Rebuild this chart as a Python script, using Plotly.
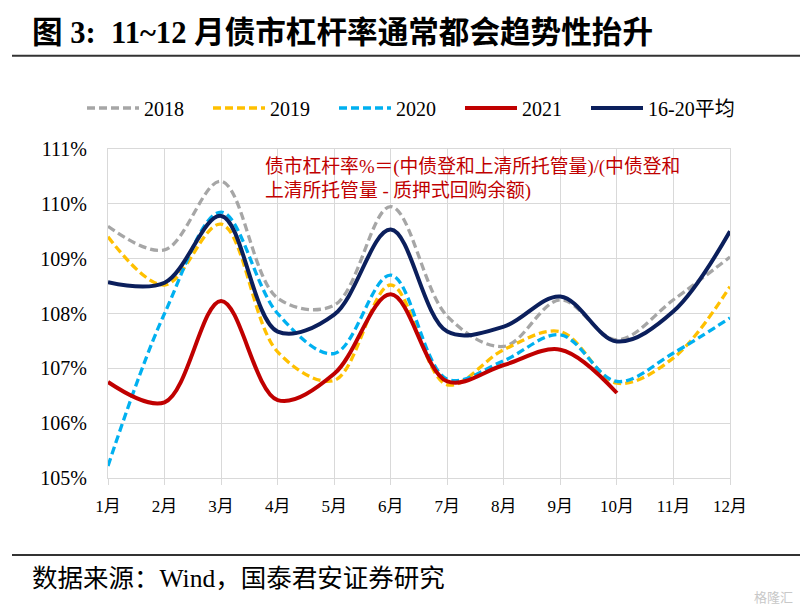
import plotly.graph_objects as go

months = ["1月", "2月", "3月", "4月", "5月", "6月", "7月", "8月", "9月", "10月", "11月", "12月"]
month_idx = list(range(1, 13))

y2018 = [109.59, 109.16, 110.41, 108.28, 108.15, 109.95, 107.95, 107.40, 108.25, 107.52, 108.25, 109.03]
y2019 = [109.40, 108.52, 109.63, 107.30, 106.78, 108.52, 106.70, 107.34, 107.67, 106.73, 107.19, 108.49]
y2020 = [105.22, 108.00, 109.85, 108.00, 107.27, 108.70, 106.80, 107.14, 107.61, 106.76, 107.28, 107.92]
y2021 = [106.75, 106.38, 108.23, 106.42, 106.90, 108.35, 106.76, 107.06, 107.34, 106.55]
yavg = [108.57, 108.56, 109.78, 107.67, 107.98, 109.53, 107.67, 107.76, 108.31, 107.49, 108.04, 109.50]

y_ticks = [105, 106, 107, 108, 109, 110, 111]
y_ticktext = ["105%", "106%", "107%", "108%", "109%", "110%", "111%"]

title_text = "图 3:  11~12 月债市杠杆率通常都会趋势性抬升"
note_text = "债市杠杆率%＝(中债登和上清所托管量)/(中债登和<br>上清所托管量 - 质押式回购余额)"
source_text = "数据来源：Wind，国泰君安证券研究"

W, H = 800, 610
L, R, T, B = 108, 730, 149, 478

def px(x):
    return (x - L) / (R - L)

def py(y):
    return (B - y) / (B - T)

SERIF = "Liberation Serif, Times New Roman, Noto Sans CJK SC, serif"

fig = go.Figure()
series = [
    ("2018", y2018, "#A6A6A6", "8px,4px", 3.3, 59),
    ("2019", y2019, "#FFC000", "8px,4px", 3.3, 59),
    ("2020", y2020, "#00B0F0", "8px,4px", 3.3, 59),
    ("2021", y2021, "#C00000", "solid", 4, 59),
    ("16-20平均", yavg, "#0B1F5C", "solid", 4, 100),
]
for name, ys, color, dash, w, lw in series:
    fig.add_trace(go.Scatter(
        x=month_idx[:len(ys)], y=ys, name=name, mode="lines",
        line=dict(color=color, width=w, dash=dash, shape="spline", smoothing=1.0),
        legendwidth=lw,
    ))

fig.update_layout(
    width=W, height=H,
    margin=dict(l=L, r=W - R, t=T, b=H - B),
    plot_bgcolor="white", paper_bgcolor="white",
    font=dict(family=SERIF, color="black", size=17),
    showlegend=True,
    legend=dict(
        orientation="h", x=px(82), y=py(108), xanchor="left", yanchor="middle",
        font=dict(family=SERIF, size=20, color="black"),
        itemwidth=52,
        bgcolor="rgba(0,0,0,0)", tracegroupgap=0,
    ),
    xaxis=dict(
        range=[1, 12], tickmode="array", tickvals=month_idx, ticktext=months,
        showgrid=True, gridcolor="#D9D9D9", gridwidth=1,
        showline=True, linecolor="#D9D9D9", linewidth=1, mirror=True,
        ticks="outside", ticklen=6, tickcolor="#D9D9D9", ticklabelstandoff=7,
        tickfont=dict(family=SERIF, size=17, color="black"),
        zeroline=False, fixedrange=True,
    ),
    yaxis=dict(
        range=[105, 111], tickmode="array", tickvals=y_ticks, ticktext=y_ticktext,
        showgrid=True, gridcolor="#D9D9D9", gridwidth=1,
        showline=True, linecolor="#D9D9D9", linewidth=1, mirror=True,
        ticks="", ticklabelstandoff=16,
        tickfont=dict(family=SERIF, size=20, color="black"),
        zeroline=False, fixedrange=True,
    ),
)

fig.add_annotation(
    text=title_text, xref="paper", yref="paper", x=px(30), y=py(33),
    xanchor="left", yanchor="middle", showarrow=False,
    font=dict(family=SERIF, size=30.6, color="black", weight="bold"),
)
fig.add_annotation(
    text=note_text, xref="paper", yref="paper", x=px(263), y=py(154),
    xanchor="left", yanchor="top", align="left", showarrow=False,
    font=dict(family=SERIF, size=18.8, color="#C00000"),
)
fig.add_annotation(
    text=source_text, xref="paper", yref="paper", x=px(30), y=py(578),
    xanchor="left", yanchor="middle", showarrow=False,
    font=dict(family=SERIF, size=25.5, color="black"),
)
fig.add_annotation(
    text="格隆汇", xref="paper", yref="paper", x=px(795), y=py(596),
    xanchor="right", yanchor="middle", showarrow=False,
    font=dict(family="Noto Sans CJK SC", size=13, color="#C8C8C8"),
)

for yy in (55.7, 555):
    fig.add_shape(type="line", xref="paper", yref="paper",
                  x0=px(12), x1=px(800), y0=py(yy), y1=py(yy),
                  line=dict(color="#333333", width=2))

fig.write_html("out.html")
